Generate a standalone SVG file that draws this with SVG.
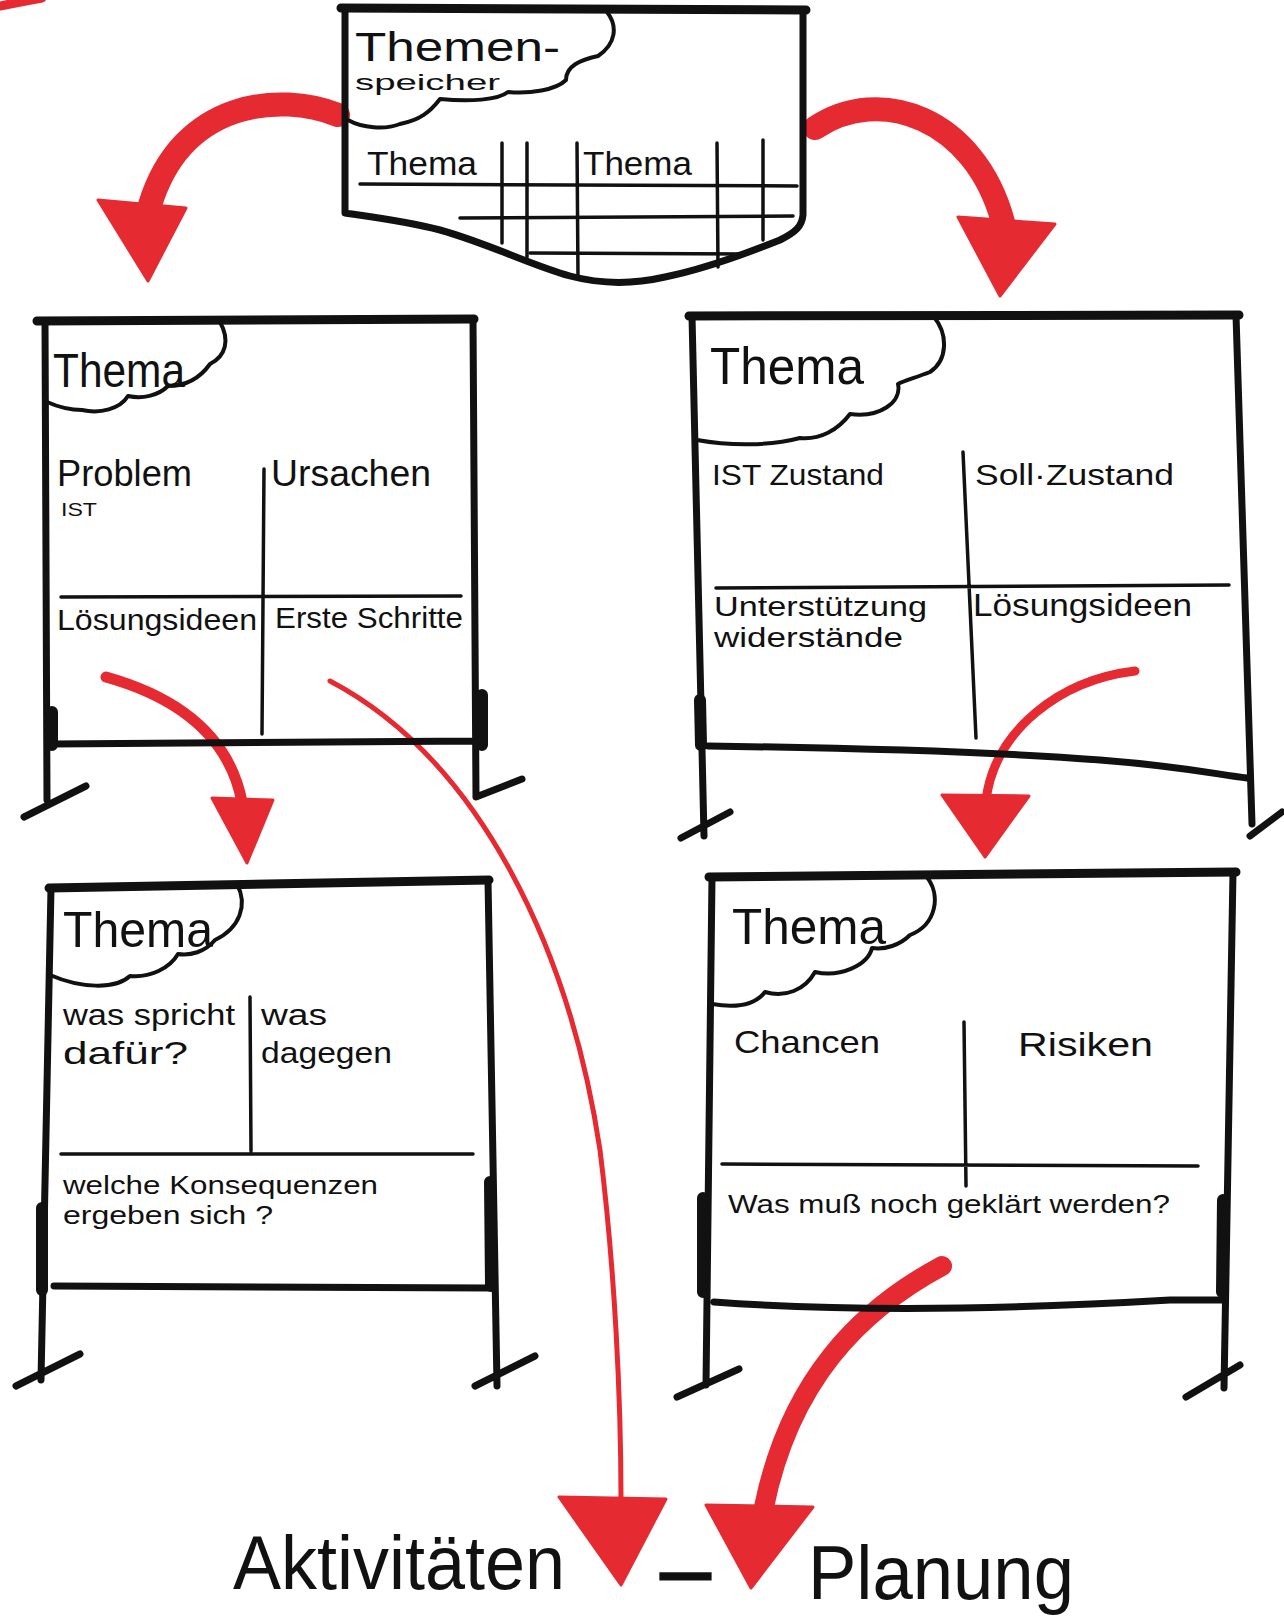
<svg xmlns="http://www.w3.org/2000/svg" width="1284" height="1619" viewBox="0 0 1284 1619">
<style>
.frame{fill:none;stroke:#111;stroke-width:7;stroke-linecap:round;stroke-linejoin:round}
.top{fill:none;stroke:#111;stroke-width:9;stroke-linecap:round}
.div{fill:none;stroke:#111;stroke-width:3.5;stroke-linecap:round}
.cloud{fill:none;stroke:#111;stroke-width:4;stroke-linecap:round;stroke-linejoin:round}
.clamp{fill:none;stroke:#111;stroke-width:12;stroke-linecap:round}
.red{fill:none;stroke:#e62a32;stroke-linecap:round}
.head{fill:#e62a32;stroke:#e62a32;stroke-width:3;stroke-linejoin:round}
text{font-family:"Liberation Sans",Arial,sans-serif;fill:#111}
</style>
<rect width="1284" height="1619" fill="#fff"/>
<path class="red" d="M0,6 Q20,2 42,-2" stroke-width="9"/>

<g id="connectors">
  <path class="red" stroke-width="24" d="M338,115 C 280,92 182,100 150,205"/>
  <polygon class="head" points="98,200 186,208 148,281"/>
  <path class="red" stroke-width="24" d="M815,128 C 880,84 975,118 1003,222"/>
  <polygon class="head" points="958,217 1055,224 1000,296"/>
  <path class="red" stroke-width="11" d="M106,677 C 170,695 228,730 242,802"/>
  <polygon class="head" points="212,798 273,800 247,863"/>
  <path class="red" stroke-width="5" d="M330,681 C 480,760 570,950 600,1150 C 615,1270 621,1400 621,1500"/>
  <polygon class="head" points="559,1497 666,1499 621,1585"/>
  <path class="red" stroke-width="9" d="M1135,671 C 1060,680 995,730 986,800"/>
  <polygon class="head" points="942,795 1029,796 985,857"/>
  <path class="red" stroke-width="20" d="M942,1266 C 860,1310 790,1380 764,1507"/>
  <polygon class="head" points="706,1505 813,1507 751,1588"/>
</g>

<g id="themenspeicher">
  <path class="frame" d="M345,9 L345,213 C 380,218 410,222 440,230 C 490,244 530,265 570,276 C 600,284 630,285 665,277 C 700,270 740,256 780,240 C 796,232 802,226 803,215 L803,10"/>
  <path class="top" d="M341,8 L806,10"/>
  <path class="cloud" d="M607,12 C 618,26 616,44 598,56 C 580,60 566,66 566,80 C 556,90 530,94 508,92 C 498,100 470,102 440,99 C 430,112 420,120 400,124 C 385,130 362,128 348,120"/>
  <text x="355" y="61" font-size="40" textLength="205" lengthAdjust="spacingAndGlyphs">Themen-</text>
  <text x="355" y="90" font-size="22" textLength="145" lengthAdjust="spacingAndGlyphs">speicher</text>
  <text x="367" y="175" font-size="34" textLength="110" lengthAdjust="spacingAndGlyphs">Thema</text>
  <text x="583" y="175" font-size="34" textLength="109" lengthAdjust="spacingAndGlyphs">Thema</text>
  <path class="div" d="M360,184 L797,186 M460,218 L793,216 M530,253 L747,254"/>
  <path class="div" d="M502,143 L502,243 M527,143 L527,257 M577,143 L578,277 M717,143 L718,267 M763,140 L763,240"/>
</g>

<g id="board1">
  <path class="top" d="M37,321 L474,319"/>
  <path class="frame" d="M45,321 L47,800 M473,319 L476,797 M52,744 L476,741 M24,817 L86,786 M476,797 L522,779"/>
  <path class="clamp" d="M482,695 L482,745 M52,712 L52,745"/>
  <path class="cloud" d="M220,322 C 230,340 226,356 210,364 C 200,378 185,386 168,386 C 158,396 142,399 128,396 C 120,409 100,414 82,410 C 68,410 56,406 47,402"/>
  <path class="div" d="M61,597 L461,596 M264,469 L262,734"/>
  <text x="53" y="387" font-size="48" textLength="132" lengthAdjust="spacingAndGlyphs">Thema</text>
  <text x="57" y="486" font-size="36" textLength="135" lengthAdjust="spacingAndGlyphs">Problem</text>
  <text x="61" y="516" font-size="19" textLength="36" lengthAdjust="spacingAndGlyphs">IST</text>
  <text x="271" y="486" font-size="36" textLength="160" lengthAdjust="spacingAndGlyphs">Ursachen</text>
  <text x="57" y="630" font-size="30" textLength="200" lengthAdjust="spacingAndGlyphs">Lösungsideen</text>
  <text x="275" y="628" font-size="30" textLength="188" lengthAdjust="spacingAndGlyphs">Erste Schritte</text>
</g>

<g id="board2">
  <path class="top" d="M689,316 L1239,315"/>
  <path class="frame" d="M692,316 L704,836 M1236,315 L1252,824 M708,746 C 850,748 1000,752 1100,760 C 1180,766 1220,775 1247,778 M681,838 L730,812 M1250,836 L1282,812"/>
  <path class="clamp" d="M700,700 L701,745"/>
  <path class="cloud" d="M934,317 C 948,334 948,360 930,372 C 915,378 905,380 898,384 C 902,402 880,418 850,414 C 838,430 820,440 800,438 C 770,446 730,446 697,440"/>
  <path class="div" d="M716,588 L1229,585 M963,452 L976,738"/>
  <text x="710" y="384" font-size="52" textLength="154" lengthAdjust="spacingAndGlyphs">Thema</text>
  <text x="712" y="485" font-size="30" textLength="172" lengthAdjust="spacingAndGlyphs">IST Zustand</text>
  <text x="975" y="485" font-size="30" textLength="199" lengthAdjust="spacingAndGlyphs">Soll·Zustand</text>
  <text x="714" y="616" font-size="28" textLength="213" lengthAdjust="spacingAndGlyphs">Unterstützung</text>
  <text x="714" y="647" font-size="28" textLength="189" lengthAdjust="spacingAndGlyphs">widerstände</text>
  <text x="973" y="616" font-size="32" textLength="219" lengthAdjust="spacingAndGlyphs">Lösungsideen</text>
</g>

<g id="board3">
  <path class="top" d="M49,888 L489,880"/>
  <path class="frame" d="M51,888 L41,1380 M488,880 L497,1386 M54,1286 L489,1288 M16,1386 L80,1354 M475,1386 L535,1356"/>
  <path class="clamp" d="M42,1208 L42,1290 M490,1182 L491,1286"/>
  <path class="cloud" d="M237,884 C 248,905 240,928 215,940 C 205,952 190,956 178,954 C 170,968 150,978 130,976 C 115,990 80,988 50,975"/>
  <path class="div" d="M61,1154 L473,1154 M250,997 L251,1151"/>
  <text x="63" y="947" font-size="50" textLength="150" lengthAdjust="spacingAndGlyphs">Thema</text>
  <text x="63" y="1025" font-size="30" textLength="172" lengthAdjust="spacingAndGlyphs">was spricht</text>
  <text x="63" y="1064" font-size="32" textLength="125" lengthAdjust="spacingAndGlyphs">dafür?</text>
  <text x="261" y="1025" font-size="30" textLength="66" lengthAdjust="spacingAndGlyphs">was</text>
  <text x="261" y="1063" font-size="30" textLength="131" lengthAdjust="spacingAndGlyphs">dagegen</text>
  <text x="63" y="1194" font-size="26" textLength="315" lengthAdjust="spacingAndGlyphs">welche Konsequenzen</text>
  <text x="63" y="1224" font-size="26" textLength="210" lengthAdjust="spacingAndGlyphs">ergeben sich ?</text>
</g>

<g id="board4">
  <path class="top" d="M709,877 L1236,872"/>
  <path class="frame" d="M712,877 L706,1385 M1233,872 L1224,1388 M714,1302 C 850,1312 1000,1310 1170,1300 L1222,1300 M677,1397 L739,1369 M1186,1397 L1240,1365"/>
  <path class="clamp" d="M703,1198 L703,1292 M1223,1200 L1222,1292"/>
  <path class="cloud" d="M926,876 C 942,895 936,925 910,935 C 900,945 885,950 872,948 C 868,965 840,978 815,972 C 805,990 785,998 765,992 C 755,1005 735,1008 712,1004"/>
  <path class="div" d="M722,1164 L1198,1166 M964,1022 L966,1186"/>
  <text x="732" y="944" font-size="50" textLength="154" lengthAdjust="spacingAndGlyphs">Thema</text>
  <text x="734" y="1053" font-size="32" textLength="146" lengthAdjust="spacingAndGlyphs">Chancen</text>
  <text x="1018" y="1056" font-size="34" textLength="135" lengthAdjust="spacingAndGlyphs">Risiken</text>
  <text x="728" y="1213" font-size="26" textLength="442" lengthAdjust="spacingAndGlyphs">Was muß noch geklärt werden?</text>
</g>

<g id="title">
  <text x="233" y="1589" font-size="76" textLength="332" lengthAdjust="spacingAndGlyphs">Aktivitäten</text>
  <text x="661" y="1597" font-size="80" textLength="49" lengthAdjust="spacingAndGlyphs" stroke="#111" stroke-width="3">–</text>
  <text x="808" y="1599" font-size="76" textLength="266" lengthAdjust="spacingAndGlyphs">Planung</text>
</g>
</svg>
